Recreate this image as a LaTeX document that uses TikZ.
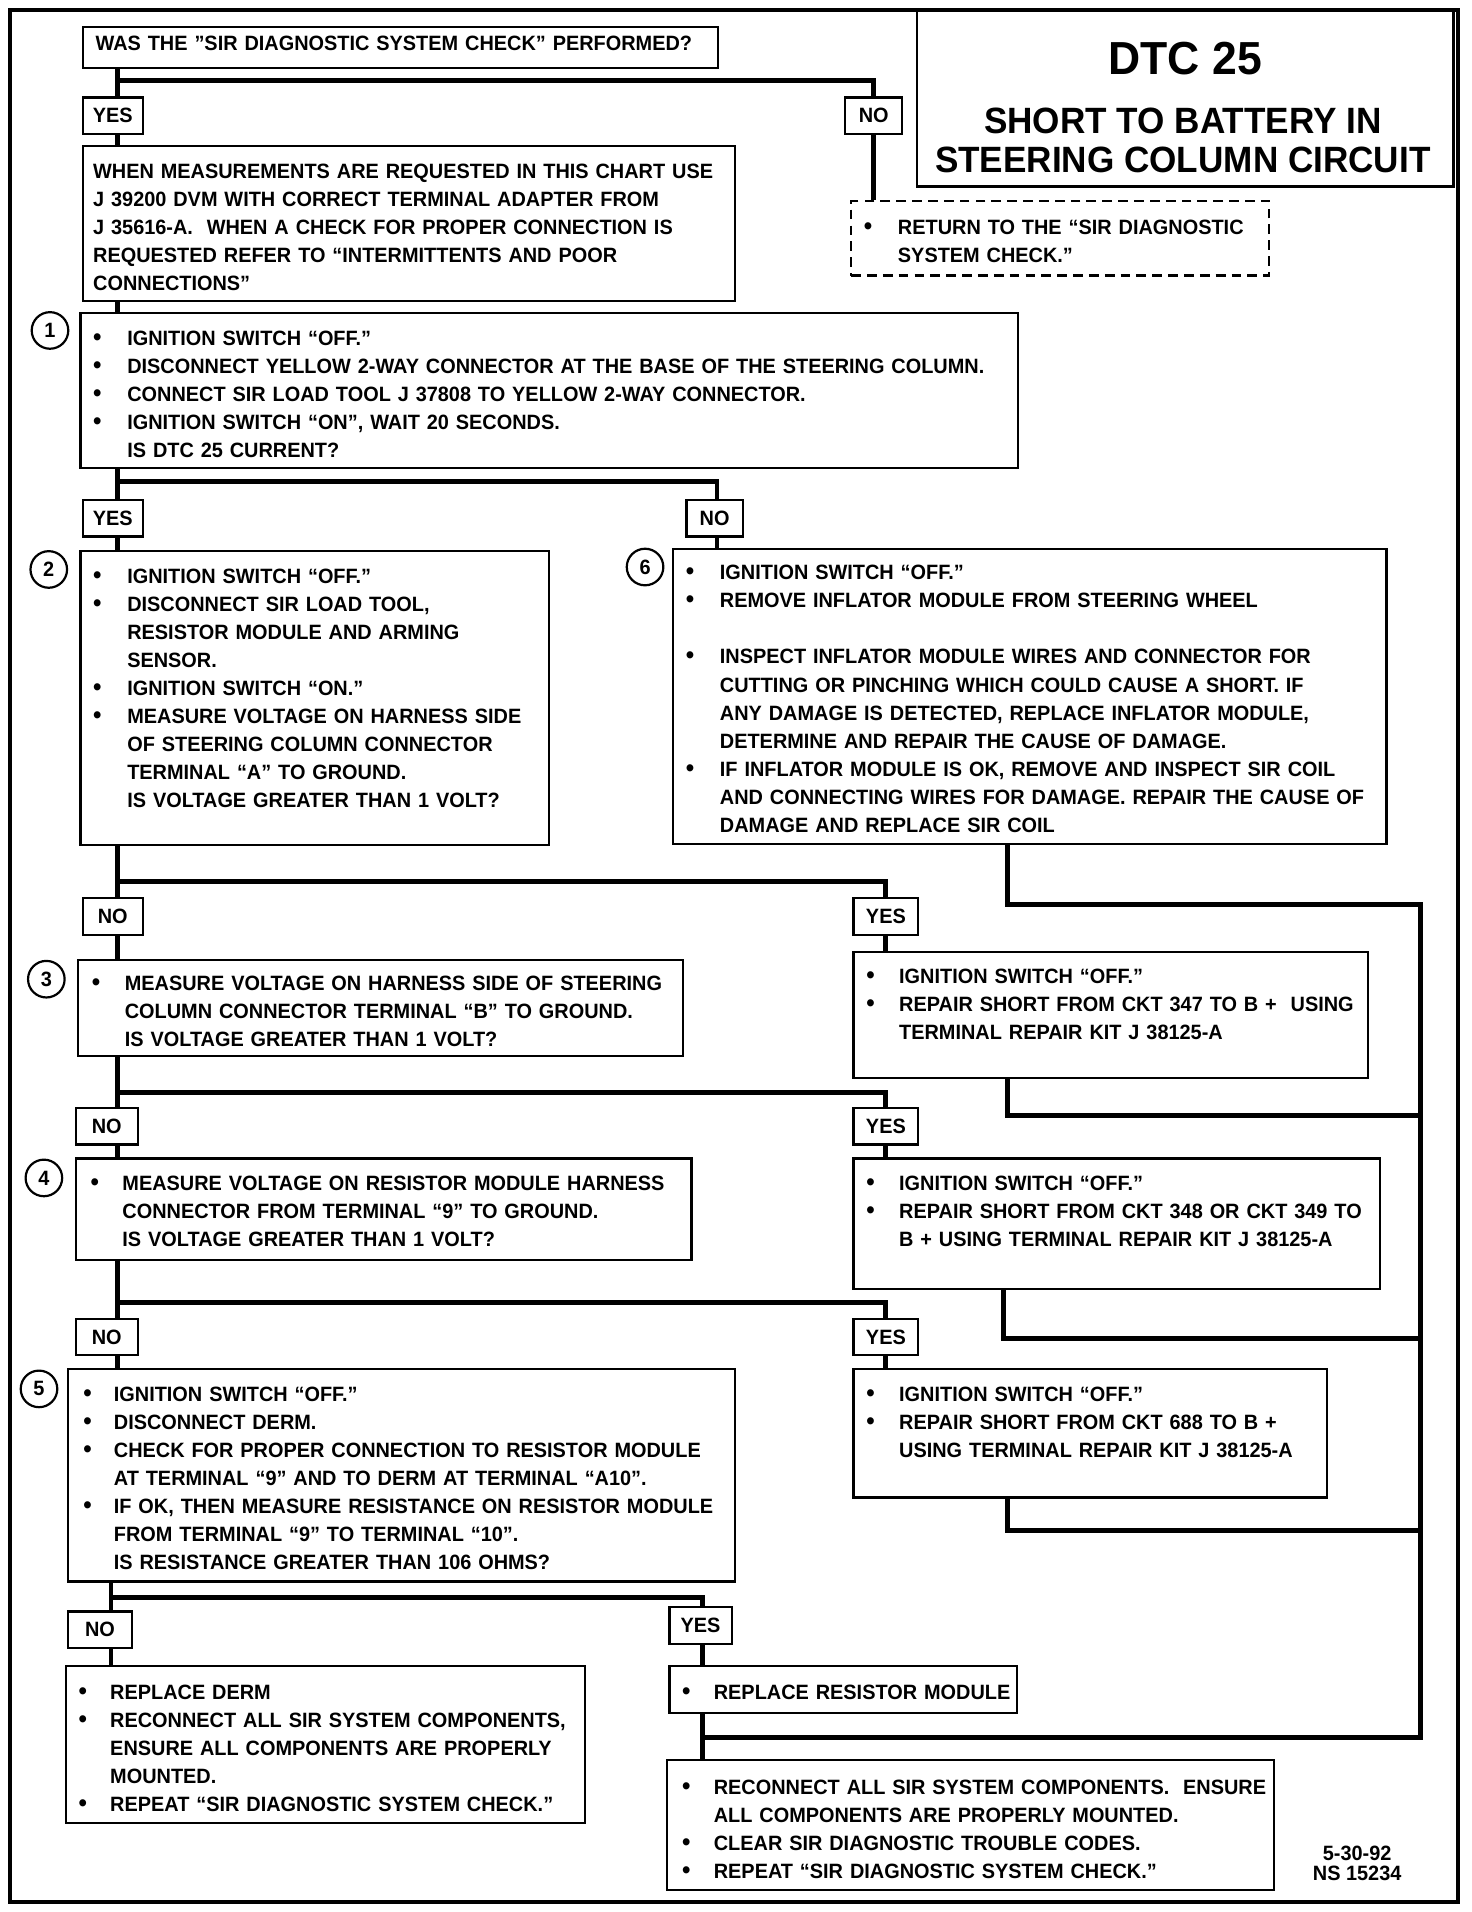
\documentclass[tikz,border=0pt]{standalone}
\usepackage{fontspec}
\setmainfont{Liberation Sans}[FakeStretch=0.96]
\usepackage{graphicx}
\usetikzlibrary{fit}
\newlength\bw
\newcommand\bi{\makebox[\bw][l]{\scalebox{1.2}{\textbullet}}}
\newcommand\ci{\hspace*{\bw}}
\tikzset{
  conn/.style={line width=2pt},
  boxline/.style={draw, line width=0.9pt, inner sep=0pt},
  dashbox/.style={draw, line width=0.9pt, inner sep=0pt, dash pattern=on 4pt off 2.5pt},
  yn/.style={draw, line width=0.9pt, inner sep=0pt, minimum height=15pt,
    font=\bfseries\fontsize{8.5}{10}\selectfont},
  txt/.style={anchor=north west, inner sep=0pt, align=left, text width=420pt,
    font=\bfseries\fontsize{8.5}{11.5}\selectfont, execute at begin node=\strut},
  num/.style={circle, draw, line width=0.9pt, minimum size=15pt, inner sep=0pt,
    font=\bfseries\fontsize{8.5}{10}\selectfont},
}
\begin{document}
\begin{tikzpicture}[x=0.5pt,y=-0.5pt]
\useasboundingbox (0,0) rectangle (1207,1568);
% frame and title
\node[draw, line width=1.6pt, inner sep=0pt, fit={(8,8) (1196,1560)}] (frame) {};
\node[boxline, fit={(752,8) (1192,153)}] (title) {};
\node[font=\bfseries\fontsize{19}{22}\selectfont] (tdtc) at (972,48) {DTC 25};
\node[font=\bfseries\fontsize{15}{16}\selectfont, align=center] (tsub) at (970,115) {SHORT TO BATTERY IN\\STEERING COLUMN CIRCUIT};
% boxes
\node[boxline, fit={(68,22) (589,56)}] (q) {};
\node[yn, minimum width=24.5pt] (yes1) at (92.5,95) {YES};
\node[yn, minimum width=23.5pt] (no1) at (716.5,95) {NO};
\node[boxline, fit={(68,120) (603,247)}] (info) {};
\node[dashbox, fit={(698,165) (1041,226)}] (dash) {};
\node[boxline, fit={(66,257) (835,384)}] (b1) {};
\node[yn, minimum width=24.5pt] (yes2) at (92.5,425) {YES};
\node[yn, minimum width=23pt] (no2) at (586,425) {NO};
\node[boxline, fit={(66,452) (450,693)}] (b2) {};
\node[boxline, fit={(552,450) (1137,692)}] (b6) {};
\node[yn, minimum width=24.5pt] (no3) at (92.5,751.5) {NO};
\node[yn, minimum width=26.5pt] (yes3) at (726.5,751.5) {YES};
\node[boxline, fit={(64,787) (560,866)}] (b3) {};
\node[boxline, fit={(700,781) (1122,884)}] (r1) {};
\node[yn, minimum width=25.5pt] (no4) at (87.5,923.5) {NO};
\node[yn, minimum width=26.5pt] (yes4) at (726.5,923.5) {YES};
\node[boxline, fit={(62,950) (567,1033)}] (b4) {};
\node[boxline, fit={(700,950) (1132,1057)}] (r2) {};
\node[yn, minimum width=25.5pt] (no5) at (87.5,1096.5) {NO};
\node[yn, minimum width=26.5pt] (yes5) at (726.5,1096.5) {YES};
\node[boxline, fit={(56,1123) (603,1297)}] (b5) {};
\node[boxline, fit={(700,1123) (1088,1228)}] (r3) {};
\node[yn, minimum width=26pt] (no6) at (82,1336.5) {NO};
\node[yn, minimum width=25.5pt] (yes6) at (574.5,1333) {YES};
\node[boxline, fit={(54,1366) (480,1495)}] (derm) {};
\node[boxline, fit={(549,1366) (834,1405)}] (rrm) {};
\node[boxline, fit={(547,1443) (1045,1550)}] (final) {};
% numbers
\node[num] (c1) at (41,271) {1};
\node[num] (c2) at (40,467) {2};
\node[num] (c6) at (529,465) {6};
\node[num] (c3) at (38,803) {3};
\node[num] (c4) at (36,966) {4};
\node[num] (c5) at (32,1139) {5};
% texts
\node[txt] (tq) at (78,25) {WAS THE "SIR DIAGNOSTIC SYSTEM CHECK" PERFORMED?};
\node[txt] (tinfo) at (76,130) {WHEN MEASUREMENTS ARE REQUESTED IN THIS CHART USE\\
J 39200 DVM WITH CORRECT TERMINAL ADAPTER FROM\\
J 35616-A.\ \ WHEN A CHECK FOR PROPER CONNECTION IS\\
REQUESTED REFER TO “INTERMITTENTS AND POOR\\
CONNECTIONS”};
\node[txt] (tdash) at (708,176) {\bw=14pt\bi RETURN TO THE “SIR DIAGNOSTIC\\
\ci SYSTEM CHECK.”};
\node[txt] (tb1) at (76,267) {\bw=14pt\bi IGNITION SWITCH “OFF.”\\
\bi DISCONNECT YELLOW 2-WAY CONNECTOR AT THE BASE OF THE STEERING COLUMN.\\
\bi CONNECT SIR LOAD TOOL J 37808 TO YELLOW 2-WAY CONNECTOR.\\
\bi IGNITION SWITCH “ON”, WAIT 20 SECONDS.\\
\ci IS DTC 25 CURRENT?};
\node[txt] (tb2) at (76,462) {\bw=14pt\bi IGNITION SWITCH “OFF.”\\
\bi DISCONNECT SIR LOAD TOOL,\\
\ci RESISTOR MODULE AND ARMING\\
\ci SENSOR.\\
\bi IGNITION SWITCH “ON.”\\
\bi MEASURE VOLTAGE ON HARNESS SIDE\\
\ci OF STEERING COLUMN CONNECTOR\\
\ci TERMINAL “A” TO GROUND.\\
\ci IS VOLTAGE GREATER THAN 1 VOLT?};
\node[txt] (tb6) at (562,459) {\bw=14pt\bi IGNITION SWITCH “OFF.”\\
\bi REMOVE INFLATOR MODULE FROM STEERING WHEEL\\
\strut\\
\bi INSPECT INFLATOR MODULE WIRES AND CONNECTOR FOR\\
\ci CUTTING OR PINCHING WHICH COULD CAUSE A SHORT. IF\\
\ci ANY DAMAGE IS DETECTED, REPLACE INFLATOR MODULE,\\
\ci DETERMINE AND REPAIR THE CAUSE OF DAMAGE.\\
\bi IF INFLATOR MODULE IS OK, REMOVE AND INSPECT SIR COIL\\
\ci AND CONNECTING WIRES FOR DAMAGE. REPAIR THE CAUSE OF\\
\ci DAMAGE AND REPLACE SIR COIL};
\node[txt] (tb3) at (75,796) {\bw=13.5pt\bi MEASURE VOLTAGE ON HARNESS SIDE OF STEERING\\
\ci COLUMN CONNECTOR TERMINAL “B” TO GROUND.\\
\ci IS VOLTAGE GREATER THAN 1 VOLT?};
\node[txt] (tr1) at (710,790) {\bw=13.5pt\bi IGNITION SWITCH “OFF.”\\
\bi REPAIR SHORT FROM CKT 347 TO B + \ USING\\
\ci TERMINAL REPAIR KIT J 38125-A};
\node[txt] (tb4) at (74,960) {\bw=13pt\bi MEASURE VOLTAGE ON RESISTOR MODULE HARNESS\\
\ci CONNECTOR FROM TERMINAL “9” TO GROUND.\\
\ci IS VOLTAGE GREATER THAN 1 VOLT?};
\node[txt] (tr2) at (710,960) {\bw=13.5pt\bi IGNITION SWITCH “OFF.”\\
\bi REPAIR SHORT FROM CKT 348 OR CKT 349 TO\\
\ci B + USING TERMINAL REPAIR KIT J 38125-A};
\node[txt] (tb5) at (68,1133) {\bw=12.5pt\bi IGNITION SWITCH “OFF.”\\
\bi DISCONNECT DERM.\\
\bi CHECK FOR PROPER CONNECTION TO RESISTOR MODULE\\
\ci AT TERMINAL “9” AND TO DERM AT TERMINAL “A10”.\\
\bi IF OK, THEN MEASURE RESISTANCE ON RESISTOR MODULE\\
\ci FROM TERMINAL “9” TO TERMINAL “10”.\\
\ci IS RESISTANCE GREATER THAN 106 OHMS?};
\node[txt] (tr3) at (710,1133) {\bw=13.5pt\bi IGNITION SWITCH “OFF.”\\
\bi REPAIR SHORT FROM CKT 688 TO B +\\
\ci USING TERMINAL REPAIR KIT J 38125-A};
\node[txt] (tderm) at (64,1377) {\bw=13pt\bi REPLACE DERM\\
\bi RECONNECT ALL SIR SYSTEM COMPONENTS,\\
\ci ENSURE ALL COMPONENTS ARE PROPERLY\\
\ci MOUNTED.\\
\bi REPEAT “SIR DIAGNOSTIC SYSTEM CHECK.”};
\node[txt] (trrm) at (559,1377) {\bw=13pt\bi REPLACE RESISTOR MODULE};
\node[txt] (tfinal) at (559,1455) {\bw=13pt\bi RECONNECT ALL SIR SYSTEM COMPONENTS.\ \ ENSURE\\
\ci ALL COMPONENTS ARE PROPERLY MOUNTED.\\
\bi CLEAR SIR DIAGNOSTIC TROUBLE CODES.\\
\bi REPEAT “SIR DIAGNOSTIC SYSTEM CHECK.”};
\node[font=\bfseries\fontsize{8.5}{8.5}\selectfont, align=center, inner sep=0pt] (date) at (1113,1528) {5-30-92\\NS 15234};
% connector coordinates
\coordinate (T) at (96,0);
\coordinate (T2) at (91,0);
\coordinate (R) at (726,0);
\coordinate (C) at (1165,0);
\coordinate (N1x) at (716,0);
\coordinate (N2x) at (588,0);
\coordinate (Y6x) at (576,0);
\coordinate (Rx) at (826,0);
\coordinate (R2x) at (823,0);
\coordinate (br0) at (0,66);
\coordinate (br1) at (0,395);
\coordinate (br2) at (0,723);
\coordinate (br3) at (0,896);
\coordinate (br4) at (0,1068);
\coordinate (br5) at (0,1310);
\coordinate (cl6) at (0,742);
\coordinate (cl1) at (0,915);
\coordinate (cl2) at (0,1098);
\coordinate (cl3) at (0,1255);
\coordinate (cl4) at (0,1425);
% connectors
\draw[conn] (q.south -| T) -- (yes1.north -| T);
\draw[conn] (br0 -| T) -| (no1.north -| N1x);
\draw[conn] (no1.south -| N1x) -- (dash.north -| N1x);
\draw[conn] (yes1.south -| T) -- (info.north -| T);
\draw[conn] (info.south -| T) -- (b1.north -| T);
\draw[conn] (b1.south -| T) -- (yes2.north -| T);
\draw[conn] (br1 -| T) -| (no2.north -| N2x);
\draw[conn] (yes2.south -| T) -- (b2.north -| T);
\draw[conn] (no2.south -| N2x) -- (b6.north -| N2x);
\draw[conn] (b2.south -| T) -- (no3.north -| T);
\draw[conn] (br2 -| T) -| (yes3.north -| R);
\draw[conn] (no3.south -| T) -- (b3.north -| T);
\draw[conn] (yes3.south -| R) -- (r1.north -| R);
\draw[conn] (b3.south -| T) -- (no4.north -| T);
\draw[conn] (br3 -| T) -| (yes4.north -| R);
\draw[conn] (no4.south -| T) -- (b4.north -| T);
\draw[conn] (yes4.south -| R) -- (r2.north -| R);
\draw[conn] (b4.south -| T) -- (no5.north -| T);
\draw[conn] (br4 -| T) -| (yes5.north -| R);
\draw[conn] (no5.south -| T) -- (b5.north -| T);
\draw[conn] (yes5.south -| R) -- (r3.north -| R);
\draw[conn] (b5.south -| T2) -- (no6.north -| T2);
\draw[conn] (br5 -| T2) -| (yes6.north -| Y6x);
\draw[conn] (no6.south -| T2) -- (derm.north -| T2);
\draw[conn] (yes6.south -| Y6x) -- (rrm.north -| Y6x);
\draw[conn] (rrm.south -| Y6x) -- (final.north -| Y6x);
\draw[conn] (b6.south -| Rx) |- (cl6 -| C) -- (cl4 -| C) -- (cl4 -| Y6x);
\draw[conn] (r1.south -| Rx) |- (cl1 -| C);
\draw[conn] (r2.south -| R2x) |- (cl2 -| C);
\draw[conn] (r3.south -| Rx) |- (cl3 -| C);
\end{tikzpicture}
\end{document}
